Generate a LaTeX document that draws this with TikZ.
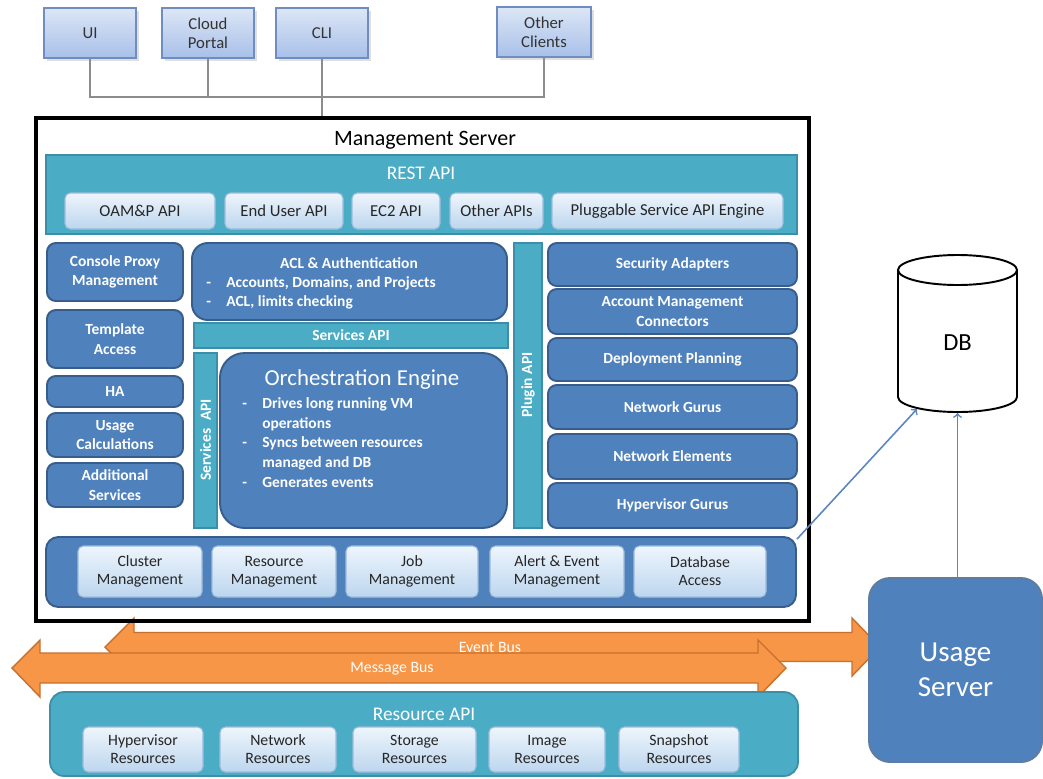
\documentclass[tikz,border=0pt]{standalone}
\usepackage{fontspec}
\setmainfont{Carlito}
\usetikzlibrary{shadows}
\newcommand{\px}{0.02cm}
\newcommand{\clientfont}{\fontsize{9.5}{11}\selectfont}
\newcommand{\palefont}{\fontsize{9}{10.2}\selectfont}
\newcommand{\apifont}{\fontsize{9.5}{11}\selectfont}
\newcommand{\boldfont}{\fontsize{8.8}{11.2}\selectfont\bfseries}
\newcommand{\titlefont}{\fontsize{12.5}{14}\selectfont}
\newcommand{\restfont}{\fontsize{11}{13}\selectfont}
\newcommand{\orchfont}{\fontsize{13}{15}\selectfont}
\newcommand{\bigfont}{\fontsize{16.5}{19.8}\selectfont}
\newcommand{\dbfont}{\fontsize{14}{16}\selectfont}
\newcommand{\busfont}{\fontsize{9}{10}\selectfont}
\newcommand{\bul}{\makebox[0.4cm][l]{-}}
\definecolor{boxblue}{HTML}{4F81BD}
\definecolor{boxedge}{HTML}{385D8A}
\definecolor{tealfill}{HTML}{4BACC6}
\definecolor{tealedge}{HTML}{3B8FA9}
\definecolor{orangefill}{HTML}{F79646}
\definecolor{orangeedge}{HTML}{C7702E}
\definecolor{paletop}{HTML}{EEF5FC}
\definecolor{palebot}{HTML}{BCD6EE}
\definecolor{paleedge}{HTML}{9DBCDD}
\definecolor{clienttop}{HTML}{DCE6F6}
\definecolor{clientbot}{HTML}{A8C0E9}
\definecolor{clientedge}{HTML}{6F8DC0}
\definecolor{wirecol}{HTML}{8C8C8C}
\definecolor{dbarrow}{HTML}{5B86C0}
\begin{document}
\begin{tikzpicture}[x=\px, y=-\px,
    sz/.style 2 args={minimum width=#1*\px, minimum height=#2*\px, inner sep=0pt},
    client/.style={draw=clientedge, line width=.7pt, top color=clienttop, bottom color=clientbot, text=black!80, font=\clientfont, align=center, drop shadow={opacity=.25, shadow xshift=1.5pt, shadow yshift=-1.5pt}},
    darkbox/.style={draw=boxedge, line width=1.1pt, fill=boxblue, rounded corners=5pt, text=white, font=\boldfont, align=center},
    tealbar/.style={draw=tealedge, line width=1pt, fill=tealfill, text=white, font=\boldfont, align=center},
    palebox/.style={draw=paleedge, line width=.6pt, top color=paletop, bottom color=palebot, rounded corners=3pt, text=black!85, font=\palefont, align=center},
    whitetext/.style={text=white, font=\boldfont, align=left, inner sep=0pt},
    wire/.style={draw=wirecol, line width=.6pt},
    dbline/.style={draw=dbarrow, line width=.9pt, ->},
    busfill/.style={fill=orangefill, draw=orangeedge, line width=.8pt, line join=miter},
    bustext/.style={text=white, font=\busfont}]
  \useasboundingbox (0,0) rectangle (1043,778);

      \node (ui) at (90,33) [client, sz={92}{50}] {UI};
      \node (portal) at (208,33) [client, sz={92}{50}] {Cloud\\Portal};
      \node (cli) at (322,33) [client, sz={92}{50}] {CLI};
      \node (other) at (544,32) [client, sz={94}{50}] {Other\\Clients};

  \draw[busfill] (105,647) -- (134,618) -- (134,632.5) -- (852,632.5) -- (852,618) -- (880,647)
      -- (852,676) -- (852,661.5) -- (134,661.5) -- (134,676) -- cycle;
  \draw[busfill] (12,668) -- (40,640) -- (40,653) -- (758,653) -- (758,640) -- (786,668)
      -- (758,697) -- (758,683) -- (40,683) -- (40,697) -- cycle;
      \node (evlbl) at (490,647) [bustext] {Event Bus};
      \node (msglbl) at (392,669) [bustext] {Message Bus};

      \node (ms) at (422.5,369.5) [draw, line width=1.8pt, sz={773}{503}] {};
      \node (mstitle) at (425,140) [font=\titlefont] {Management Server};

  \coordinate (hub) at (322,97);
  \draw[wire] (ui.south) |- (hub) -| (other.south);
  \draw[wire] (portal.south) -- (portal.south |- hub);
  \draw[wire] (cli.south) -- (cli.south |- ms.north);

      \node (rest) at (421.5,194.5) [tealbar, sz={751}{79}] {};
      \node (restlbl) at (421,173) [text=white, font=\restfont] {REST API};
      \node (oamp) at (140,211) [palebox, font=\apifont, sz={150}{36}] {OAM\&P API};
      \node (enduser) at (284,211) [palebox, font=\apifont, sz={118}{36}] {End User API};
      \node (ectwo) at (396,211) [palebox, font=\apifont, sz={88}{36}] {EC2 API};
      \node (otherapi) at (496.5,211) [palebox, font=\apifont, sz={93}{36}] {Other APIs};
      \node (plugapi) at (667.5,211) [palebox, font=\apifont, sz={231}{36}] {Pluggable Service API Engine};

      \node (console) at (115,272) [darkbox, sz={136}{58}] {Console Proxy\\Management};
      \node (template) at (115,339) [darkbox, sz={136}{58}] {Template\\Access};
      \node (ha) at (115,391.5) [darkbox, sz={136}{31}] {HA};
      \node (usagecalc) at (115,435) [darkbox, sz={136}{44}] {Usage\\Calculations};
      \node (addsvc) at (115,485) [darkbox, sz={136}{44}] {Additional\\Services};

      \node (acl) at (349.5,281.5) [darkbox, rounded corners=9pt, sz={315}{77}] {};
      \node (acltitle) at (349,263) [whitetext] {ACL \& Authentication};
      \node (acl1) at (206,283) [whitetext, anchor=west] {\bul Accounts, Domains, and Projects};
      \node (acl2) at (206,302) [whitetext, anchor=west] {\bul ACL, limits checking};

      \node (svch) at (351,335.5) [tealbar, sz={314}{25}] {Services API};
      \node (svcv) at (205.5,440.5) [tealbar, sz={23}{175}] {};
      \node (svcvlbl) at (205.5,440) [whitetext, rotate=90] {Services\hspace{0.5em}API};

      \node (orch) at (363.5,440.5) [darkbox, rounded corners=14pt, sz={287}{175}] {};
      \node (orchtitle) at (362,380) [text=white, font=\orchfont] {Orchestration Engine};
      \node (orchlist) at (242,442.5) [whitetext, anchor=west] {\bul Drives long running VM\\\hspace*{0.4cm}operations\\\bul Syncs between resources\\\hspace*{0.4cm}managed and DB\\\bul Generates events};

      \node (plugin) at (528,385.5) [tealbar, sz={28}{285}] {};
      \node (pluginlbl) at (528,385) [whitetext, rotate=90] {Plugin API};

      \node (secadapt) at (672.5,264.5) [darkbox, sz={249}{43}] {Security Adapters};
      \node (acctconn) at (672.5,311.5) [darkbox, sz={249}{45}] {Account Management\\Connectors};
      \node (deploy) at (672.5,359.5) [darkbox, sz={249}{43}] {Deployment Planning};
      \node (netgurus) at (672.5,407) [darkbox, sz={249}{44}] {Network Gurus};
      \node (netelem) at (672.5,456.5) [darkbox, sz={249}{45}] {Network Elements};
      \node (hvgurus) at (672.5,505.5) [darkbox, sz={249}{45}] {Hypervisor Gurus};

      \node (core) at (421,572) [darkbox, rounded corners=7pt, sz={750}{70}] {};
      \node (cluster) at (140,571.5) [palebox, sz={124}{51}] {Cluster\\Management};
      \node (resmgmt) at (274,571.5) [palebox, sz={124}{51}] {Resource\\Management};
      \node (jobmgmt) at (412,571.5) [palebox, sz={132}{51}] {Job\\Management};
      \node (alertmgmt) at (557,571.5) [palebox, sz={134}{51}] {Alert \& Event\\Management};
      \node (dbaccess) at (700,571.5) [palebox, sz={132}{51}] {Database\\Access};

      \node (resapi) at (424,734) [tealbar, rounded corners=8pt, sz={748}{84}] {};
      \node (resapilbl) at (424,714) [text=white, font=\restfont] {Resource API};
      \node (hvres) at (143,749.5) [palebox, sz={120}{45}] {Hypervisor\\Resources};
      \node (netres) at (278,749.5) [palebox, sz={116}{45}] {Network\\Resources};
      \node (stores) at (414.5,749.5) [palebox, sz={123}{45}] {Storage\\Resources};
      \node (imgres) at (547,749.5) [palebox, sz={116}{45}] {Image\\Resources};
      \node (snapres) at (679,749.5) [palebox, sz={120}{45}] {Snapshot\\Resources};

      \node (usage) at (955.5,670) [darkbox, draw=boxedge!80, rounded corners=12pt, font=\bigfont, sz={173}{184}] {\mdseries Usage\\\mdseries Server};

  \draw[line width=1.1pt, fill=white] (898,270) -- (898,397) arc[start angle=180, end angle=360, x radius=1.19cm, y radius=0.3cm] -- (1017,270);
  \draw[line width=1.1pt, fill=white] (957.5,270) ellipse [x radius=1.19cm, y radius=0.3cm];
      \node (db) at (957.5,343) [font=\dbfont] {DB};
  \coordinate (dbin) at (917,409);
  \coordinate (dbbot) at (957.5,413);

  \draw[dbline] (core.5) -- (dbin);
  \draw[dbline] (usage.north -| dbbot) -- (dbbot);

\end{tikzpicture}
\end{document}
